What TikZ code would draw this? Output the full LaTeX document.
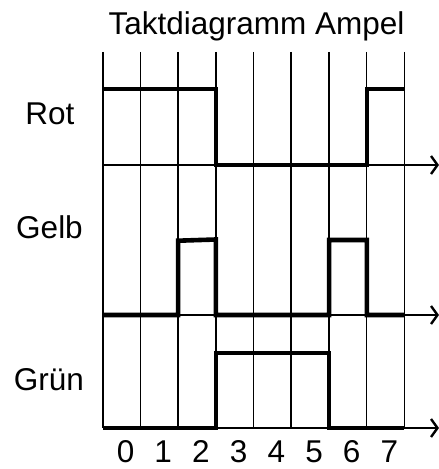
\documentclass[tikz,border=0pt]{standalone}
\usepackage{fontspec}
\setmainfont{Liberation Sans}
\usetikzlibrary{arrows.meta}
\begin{document}
\begin{tikzpicture}[x=1bp,y=-1bp,
  grid/.style={line width=1.6bp,black},
  axis/.style={line width=1.6bp,black,-{Straight Barb[length=6.5bp,width=18bp,line width=2.4bp]}},
  signal/.style={line width=4.6bp,black,line join=miter},
  lbl/.style={anchor=base,inner sep=0pt,font=\fontsize{31.5bp}{38bp}\selectfont}]
\useasboundingbox (0,0) rectangle (439,469);
% grid
\foreach \i in {0,...,8}{
  \draw[grid] ({102.7+37.7*\i},52) -- ({102.7+37.7*\i},428);
}
% axes
\coordinate (r0) at (102.7,165); \coordinate (r1) at (439,165);
\coordinate (g0) at (102.7,315); \coordinate (g1) at (439,315);
\coordinate (n0) at (102.7,428); \coordinate (n1) at (439,428);
\draw[axis] (r0) -- (r1);
\draw[axis] (g0) -- (g1);
\draw[axis] (n0) -- (n1);
% signals
\draw[signal] (102.7,89) -- (215.8,89) -- (215.8,165) -- (366.8,165) -- (366.8,89) -- (404.3,89);
\draw[signal] (102.7,315) -- (178.1,315) -- (178.1,240.7) -- (215.8,239.5) -- (215.8,315) -- (329.1,315) -- (329.1,240) -- (366.8,240) -- (366.8,315) -- (404.3,315);
\draw[signal] (102.7,428) -- (215.8,428) -- (215.8,353) -- (329.1,353) -- (329.1,428) -- (404.3,428);
% labels
\node[lbl] (title) at (256.5,35) {Taktdiagramm Ampel};
\node[lbl] (rot) at (50,125) {Rot};
\node[lbl] (gelb) at (49.5,238.5) {Gelb};
\node[lbl] (gruen) at (49,390) {Grün};
\foreach \i in {0,...,7}{
  \node[lbl] (t\i) at ({102.7+37.7*\i+18.85+4},462.5) {\i};
}
\end{tikzpicture}
\end{document}
